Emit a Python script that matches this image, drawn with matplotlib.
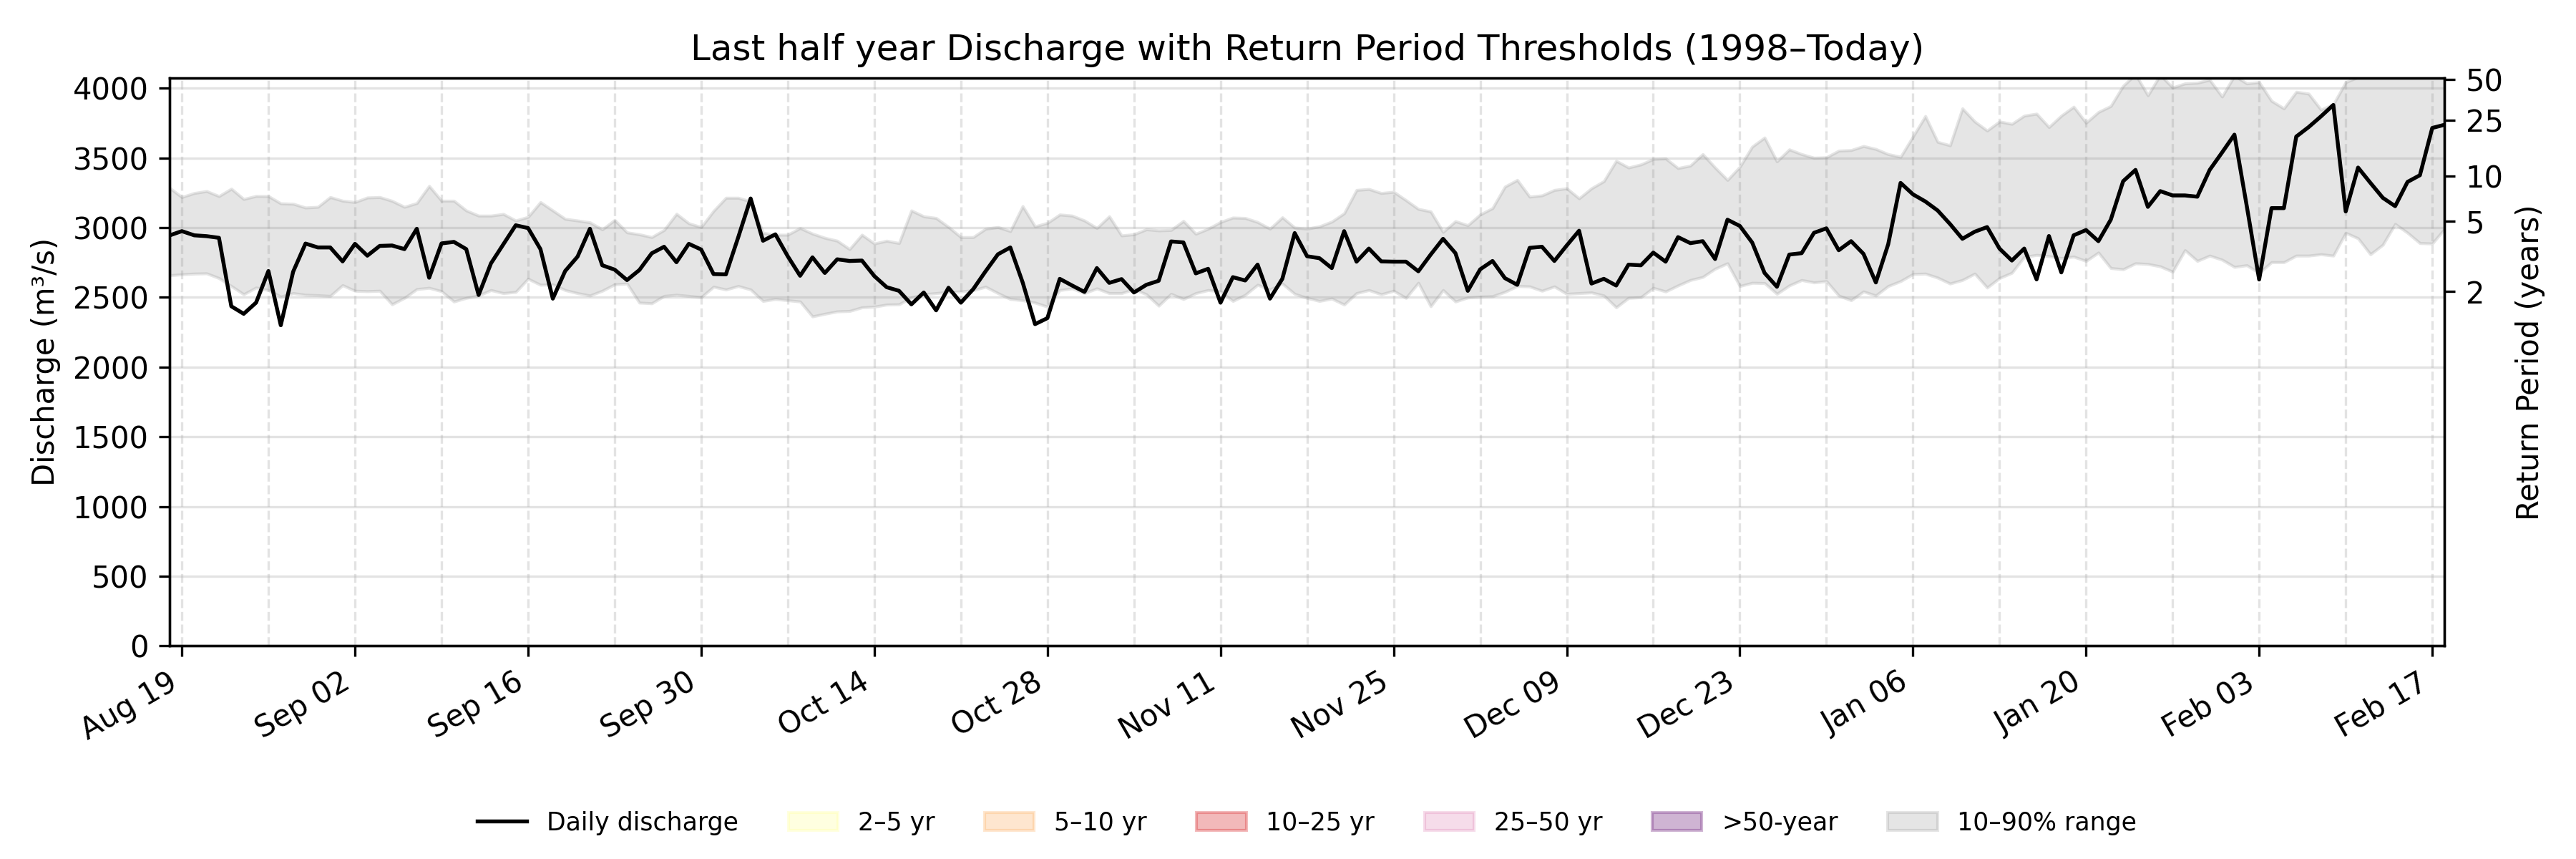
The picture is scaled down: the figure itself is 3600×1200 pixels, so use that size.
import matplotlib
matplotlib.use("Agg")
import matplotlib.pyplot as plt
import matplotlib.dates as mdates
from matplotlib.patches import Patch
from matplotlib.lines import Line2D
import numpy as np
import pandas as pd

# daily values, 2024-08-18 .. 2025-02-18
start_date = "2024-08-18"
first_tick = "2024-08-19"
last_tick = "2025-02-17"

discharge = [
    2944, 2975, 2945, 2939, 2927, 2436, 2382, 2462, 2689, 2300,
    2684, 2886, 2858, 2858, 2758, 2884, 2799, 2869, 2872, 2846,
    2992, 2641, 2887, 2898, 2846, 2517, 2744, 2881, 3017, 2997,
    2846, 2491, 2689, 2792, 2992, 2730, 2699, 2624, 2696, 2816,
    2863, 2752, 2884, 2843, 2667, 2665, 2932, 3209, 2906, 2952,
    2795, 2655, 2787, 2675, 2773, 2761, 2764, 2653, 2573, 2547,
    2450, 2535, 2407, 2569, 2462, 2559, 2687, 2809, 2858, 2607,
    2308, 2351, 2633, 2585, 2539, 2710, 2604, 2631, 2535, 2590,
    2619, 2901, 2894, 2672, 2705, 2462, 2645, 2621, 2735, 2491,
    2633, 2961, 2795, 2781, 2710, 2975, 2756, 2850, 2758, 2756,
    2756, 2687, 2807, 2920, 2817, 2547, 2701, 2761, 2638, 2590,
    2855, 2863, 2761, 2872, 2978, 2599, 2633, 2585, 2735, 2730,
    2821, 2756, 2932, 2889, 2903, 2775, 3057, 3012, 2893, 2675,
    2576, 2807, 2817, 2963, 2995, 2838, 2903, 2812, 2607, 2881,
    3321, 3239, 3188, 3123, 3026, 2920, 2971, 3004, 2850, 2764,
    2850, 2629, 2940, 2679, 2945, 2983, 2903, 3057, 3333, 3414,
    3149, 3262, 3231, 3231, 3222, 3414, 3539, 3667, 3154, 2628,
    3140, 3140, 3653, 3721, 3798, 3880, 3116, 3431, 3321, 3214,
    3154, 3328, 3376, 3715, 3738,
]

q90 = [
    3286, 3219, 3248, 3262, 3226, 3279, 3205, 3227, 3226, 3174,
    3171, 3144, 3149, 3219, 3193, 3183, 3216, 3219, 3192, 3149,
    3176, 3299, 3193, 3193, 3123, 3086, 3086, 3098, 3051, 3077,
    3183, 3123, 3063, 3051, 3038, 2987, 3055, 2966, 2952, 2932,
    2983, 3099, 3031, 3004, 3120, 3214, 3214, 3188, 2963, 2949,
    2949, 2997, 2957, 2927, 2906, 2846, 2949, 2886, 2906, 2889,
    3123, 3081, 3069, 3005, 2932, 2932, 2992, 3004, 2975, 3154,
    3009, 3034, 3094, 3086, 3051, 2997, 3081, 2944, 2952, 2988,
    2980, 2983, 3048, 2956, 2992, 3040, 3072, 3069, 3040, 2992,
    3074, 3000, 2992, 3009, 3043, 3103, 3270, 3277, 3248, 3257,
    3197, 3134, 3116, 2969, 3046, 3017, 3094, 3140, 3294, 3342,
    3222, 3231, 3270, 3282, 3210, 3282, 3333, 3479, 3431, 3453,
    3492, 3496, 3427, 3445, 3527, 3431, 3342, 3436, 3581, 3646,
    3475, 3561, 3527, 3501, 3504, 3552, 3556, 3585, 3564, 3527,
    3508, 3653, 3800, 3615, 3590, 3855, 3761, 3696, 3761, 3744,
    3803, 3817, 3721, 3803, 3867, 3752, 3829, 3872, 4017, 4100,
    3949, 4095, 4005, 4034, 4039, 4060, 3940, 4090, 4034, 4043,
    3909, 3855, 3974, 3961, 3846, 3885, 4043, 4080, 4150, 4200,
    4180, 4220, 4200, 4160, 4180,
]

q10 = [
    2658, 2665, 2670, 2672, 2638, 2581, 2522, 2570, 2552, 2505,
    2530, 2518, 2515, 2510, 2587, 2547, 2544, 2547, 2450, 2496,
    2559, 2568, 2544, 2470, 2496, 2513, 2552, 2530, 2539, 2633,
    2590, 2593, 2552, 2530, 2513, 2547, 2593, 2599, 2462, 2457,
    2510, 2518, 2510, 2501, 2576, 2556, 2581, 2556, 2474, 2488,
    2479, 2470, 2363, 2382, 2399, 2402, 2428, 2433, 2448, 2450,
    2499, 2522, 2530, 2539, 2542, 2551, 2576, 2530, 2488, 2479,
    2462, 2433, 2552, 2564, 2530, 2564, 2530, 2530, 2559, 2522,
    2440, 2525, 2488, 2530, 2552, 2542, 2474, 2518, 2590, 2556,
    2599, 2525, 2496, 2474, 2491, 2448, 2530, 2552, 2522, 2547,
    2496, 2604, 2436, 2552, 2470, 2499, 2505, 2508, 2539, 2581,
    2578, 2547, 2578, 2525, 2530, 2535, 2513, 2428, 2496, 2501,
    2568, 2542, 2585, 2624, 2646, 2705, 2744, 2581, 2604, 2602,
    2525, 2585, 2624, 2607, 2616, 2513, 2479, 2542, 2513, 2581,
    2616, 2667, 2670, 2641, 2599, 2624, 2670, 2570, 2638, 2676,
    2790, 2804, 2795, 2781, 2792, 2761, 2821, 2710, 2701, 2744,
    2739, 2722, 2684, 2838, 2761, 2799, 2770, 2718, 2730, 2675,
    2752, 2752, 2799, 2799, 2809, 2799, 2963, 2923, 2809, 2877,
    3026, 2963, 2889, 2886, 2992,
]

# return period thresholds (m3/s)
rp_years = [2, 5, 10, 25, 50]
rp_values = [2542, 3046, 3368, 3769, 4065]

band_labels = ["2–5 yr", "5–10 yr", "10–25 yr", "25–50 yr", ">50-year"]
band_colors = ["#ffff99", "#fdae61", "#d7191c", "#de77ae", "#762a83"]
band_alpha = [0.3, 0.3, 0.3, 0.25, 0.35]

dates = pd.date_range(start_date, periods=len(discharge), freq="D")

fig, ax = plt.subplots(figsize=(12, 4), dpi=300)
fig.subplots_adjust(left=0.0658, right=0.949, top=0.909, bottom=0.248)

ax.fill_between(dates, q10, q90, color="gray", alpha=0.2, zorder=1)
ax.plot(dates, discharge, color="black", lw=1.3, zorder=3)

ax.set_xlim(dates[0], dates[-1])
ax.set_ylim(0, 4072)
ax.set_yticks(np.arange(0, 4001, 500))

ax.set_xticks(pd.date_range(first_tick, last_tick, freq="14D"))
ax.xaxis.set_minor_locator(mdates.WeekdayLocator(byweekday=mdates.MO))
ax.xaxis.set_major_formatter(mdates.DateFormatter("%b %d"))
ax.tick_params(axis="x", which="minor", length=0)
plt.setp(ax.get_xticklabels(), rotation=30, ha="right")

ax.grid(True, axis="y", color="#b0b0b0", alpha=0.35, lw=0.8, zorder=0)
ax.grid(True, axis="x", which="both", color="#b0b0b0", alpha=0.35, lw=0.8, ls="--", zorder=0)
ax.set_axisbelow(True)

ax.set_ylabel("Discharge (m³/s)")
ax.set_title("Last half year Discharge with Return Period Thresholds (1998–Today)")

ax2 = ax.twinx()
ax2.set_ylim(ax.get_ylim())
ax2.set_yticks(rp_values)
ax2.set_yticklabels([str(y) for y in rp_years])
ax2.set_ylabel("Return Period (years)")

handles = [Line2D([0], [0], color="black", lw=1.3, label="Daily discharge")]
for lab, c, a in zip(band_labels, band_colors, band_alpha):
    handles.append(Patch(facecolor=c, edgecolor=c, alpha=a, label=lab))
handles.append(Patch(facecolor="gray", edgecolor="gray", alpha=0.2, label="10–90% range"))

# legend centred under the axes, not the figure
fig.legend(handles=handles, loc="center", bbox_to_anchor=(0.5074, 0.042), ncol=7,
           frameon=False, fontsize="small")

fig.savefig("out.png", dpi=300)
